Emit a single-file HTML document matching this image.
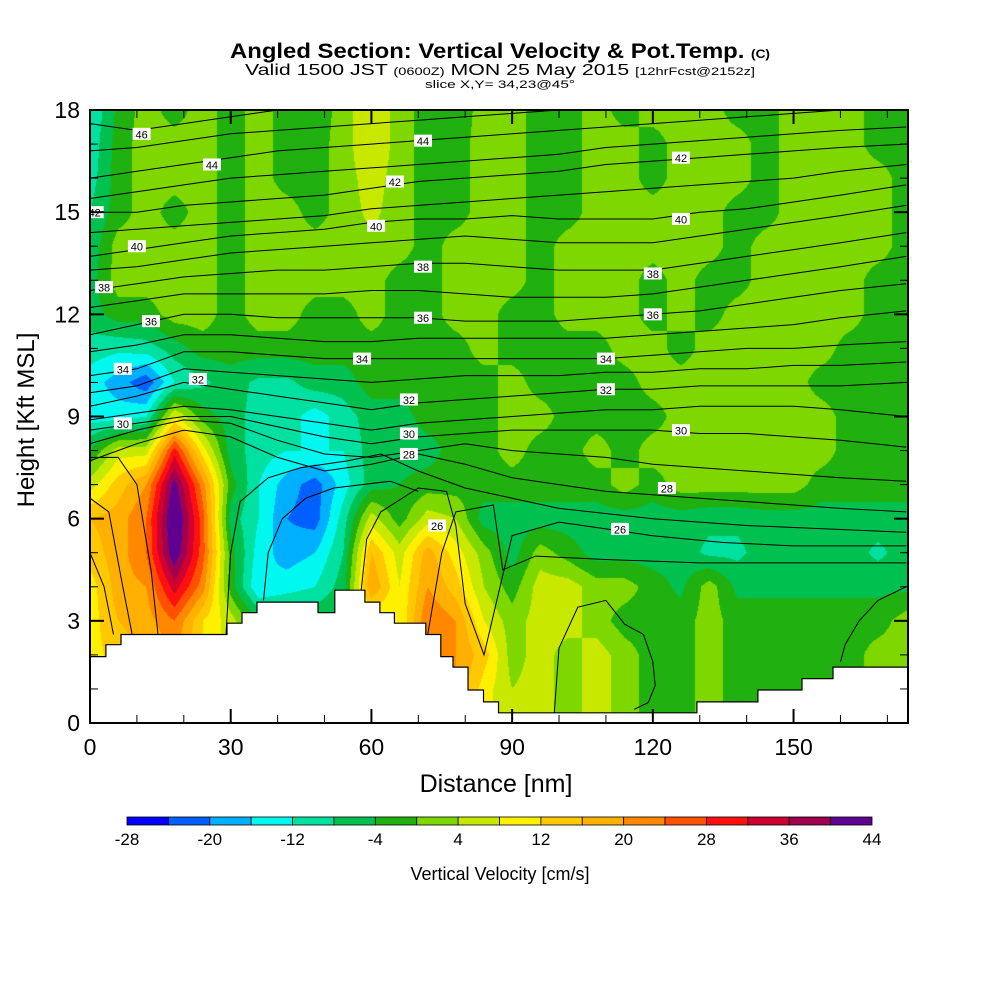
<!DOCTYPE html>
<html><head><meta charset="utf-8">
<style>
html,body{margin:0;padding:0;background:#fff;}
#wrap{position:relative;width:1000px;height:1000px;overflow:hidden;font-family:"Liberation Sans",sans-serif;}
canvas{position:absolute;left:90px;top:110px;}
svg{position:absolute;left:0;top:0;}
</style></head>
<body>
<div id="wrap">
<canvas id="cv" width="818" height="613"></canvas>
<svg id="sv" width="1000" height="1000" xmlns="http://www.w3.org/2000/svg">
<defs><clipPath id="plotclip"><rect x="90" y="110" width="818" height="613"/></clipPath></defs>
<text x="500" y="58" text-anchor="middle" font-size="21" font-weight="bold" textLength="540" lengthAdjust="spacingAndGlyphs">Angled Section: Vertical Velocity &amp; Pot.Temp. <tspan font-size="12">(C)</tspan></text>
<text x="500" y="75" text-anchor="middle" font-size="16" textLength="510" lengthAdjust="spacingAndGlyphs">Valid 1500 JST <tspan font-size="11">(0600Z)</tspan> MON 25 May 2015 <tspan font-size="11">[12hrFcst@2152z]</tspan></text>
<text x="500" y="88" text-anchor="middle" font-size="11" textLength="150" lengthAdjust="spacingAndGlyphs">slice X,Y= 34,23@45°</text>
<g id="contours" clip-path="url(#plotclip)"></g>
<g id="terrain"></g>
<g id="clabels"></g>
<g id="axes"></g>
<text x="496" y="792" text-anchor="middle" font-size="25">Distance [nm]</text>
<text transform="translate(34,420) rotate(-90)" text-anchor="middle" font-size="24">Height [Kft MSL]</text>
<g id="cbar"></g>
<text x="500" y="880" text-anchor="middle" font-size="18">Vertical Velocity [cm/s]</text>
</svg>
</div>
<script>
// ---- data ----
const levels = [-28,-24,-20,-16,-12,-8,-4,0,4,8,12,16,20,24,28,32,36,40,44];
const levelColors = ["#0000ff","#0060ff","#00b0ff","#00f8f0","#00e0a0","#00c050","#20b010","#7ed800","#c8e800","#fff000","#ffc800","#ffb000","#ff8800","#ff5000","#ff1010","#d00030","#a00050","#600090"];
const gridNm = [0,6,12,18,24,30,36,42,48,54,60,66,72,78,84,90,96,102,108,114,120,126,132,138,144,150,156,162,168,174];
const gridKft = [18,17,16,15,14,13,12,11,10,9,8,7,6,5,4,3,2,1,0];
const w18 = [-12,-3,2,-2,2,-2,2,-2,-3,2,8,2,-2,-3,2,2,-2,-2,2,-2,2,2,2,-2,-2,2,2,2,-2,-2];
const w17 = [-11,-2,2,2,2,-2,2,-2,-2,2,8,2,-2,-2,2,2,-2,-2,2,2,-2,2,2,2,-2,2,2,2,-2,-2];
const w16 = [-10,-2,2,2,2,-2,2,-2,-2,2,6,2,-2,-2,2,2,-2,-2,2,2,-2,2,2,2,-2,2,2,2,2,-2];
const w15 = [-8,-2,2,-2,2,-2,2,2,-2,2,5,2,-2,-2,2,2,-2,-2,2,2,2,2,2,-2,-2,2,2,2,2,-2];
const w14 = [-7,2,2,2,2,-2,2,2,2,2,3,2,-2,2,2,2,-2,2,2,2,2,2,2,-2,2,2,2,2,2,-2];
const w13 = [-6,2,2,2,2,-2,2,2,2,2,2,-2,-2,2,2,2,-2,2,2,2,-2,2,-2,-2,2,2,2,2,-2,-2];
const w12 = [-6,-2,-2,2,2,-2,2,2,-2,-2,2,-2,-2,2,2,-2,-2,2,2,2,-2,2,-2,2,2,2,2,2,-2,-2];
const w11 = [-10,-11,-10,-6,-2,-2,-2,-2,-2,-2,-2,-2,-2,-2,2,-2,-2,-2,-2,2,2,-2,2,2,2,2,2,-2,-2,-2];
const w10 = [-14,-18,-23,-12,-9,-6,-9,-9,-6,-6,-2,-2,-2,-2,-2,2,-2,-2,-2,-2,2,2,2,2,2,2,-2,-2,-2,-2];
const w9  = [-14,-14,-12,8,-2,-6,-10,-10,-14,-10,-6,-6,-2,-2,-2,2,2,-2,-2,-2,-2,2,2,2,2,2,2,-2,-2,-2];
const w8  = [-4,6,6,30,10,-6,-10,-12,-12,-12,-6,-6,-6,-2,-2,2,-2,-2,2,-2,2,2,2,2,2,2,2,-2,-2,-2];
const w7  = [6,14,20,42,22,-2,-12,-18,-22,-14,-6,-4,-2,-2,-2,-2,-2,-2,-2,2,-2,2,2,2,2,2,-2,-2,-2,-2];
const w6  = [16,18,24,46,26,-6,-12,-20,-22,-10,6,-2,6,4,-6,-6,-6,-6,-6,-6,-6,-6,-7,-7,-6,-6,-6,-6,-6,-6];
const w5  = [14,18,24,44,26,-2,-14,-18,-16,-8,16,6,18,10,2,-6,2,-2,-6,-6,-6,-6,-9,-9,-6,-6,-6,-6,-9,-6];
const w4  = [10,18,20,34,22,-2,-16,-14,-12,-6,20,8,20,14,4,-2,6,6,2,2,-2,-5,2,-5,-5,-5,-5,-5,-5,-5];
const w3  = [10,16,18,24,12,6,-4,-4,-4,-4,8,8,24,20,8,2,6,6,2,-2,-2,-2,2,-2,-2,-2,-2,-2,-2,2];
const w2  = [10,14,16,20,12,6,-4,-4,-4,-4,10,10,22,20,14,2,6,2,6,2,-2,-2,2,-2,-2,-2,-2,-2,2,2];
const w1  = [10,14,16,20,12,6,-4,-4,-4,-4,10,10,22,20,10,4,6,2,6,2,-2,-2,2,-2,-2,-2,-2,-2,2,2];
const w0  = [10,14,16,20,12,6,-4,-4,-4,-4,10,10,22,20,10,4,6,2,6,2,-2,-2,2,-2,-2,-2,-2,-2,2,2];
const wRows = [w18,w17,w16,w15,w14,w13,w12,w11,w10,w9,w8,w7,w6,w5,w4,w3,w2,w1,w0];

// terrain steps: start nm, height kft
const terrNm  = [0,3.4,6.6,29.2,32.4,35.6,48.6,51.8,52.2,58.6,61.8,64.9,71.4,71.6,74.8,77.4,80.6,83.9,87.1,129.4,142.4,151.8,158.4,174.5];
const terrKft = [1.95,2.3,2.6,2.93,3.24,3.55,3.24,3.24,3.9,3.55,3.24,2.93,2.93,2.6,1.95,1.64,0.97,0.62,0.3,0.62,0.97,1.3,1.64,1.64];

// potential temperature contours (heights at fixed nm positions)
const thNm = [0,10,20,30,40,50,60,70,80,90,100,110,120,130,140,150,160,174];
const thLevels = [46,45,44,43,42,41,40,39,38,37,36,35,34,33,32,31,30,29,28];
const th46 = [17.6,17.4,17.6,17.8,18.0,18.2,18.4,18.5,18.6,18.7,18.8,18.9,19,19,19,19,19,19];
const th45 = [16.8,16.9,17.1,17.3,17.4,17.5,17.6,17.7,17.8,17.9,18.0,18.1,18.2,18.3,18.4,18.5,18.6,18.7];
const th44 = [16.0,16.2,16.4,16.6,16.8,16.9,17.0,17.1,17.2,17.3,17.4,17.5,17.6,17.7,17.8,17.9,18.0,18.1];
const th43 = [15.4,15.6,15.8,16.0,16.1,16.2,16.3,16.4,16.5,16.6,16.7,16.9,17.0,17.1,17.2,17.3,17.4,17.5];
const th42 = [15.0,15.0,15.2,15.3,15.4,15.5,15.7,15.9,16.0,16.1,16.2,16.4,16.5,16.6,16.7,16.8,16.9,17.0];
const th41 = [14.4,14.5,14.6,14.7,14.8,14.9,15.1,15.2,15.3,15.4,15.5,15.6,15.7,15.8,15.9,16.0,16.2,16.4];
const th40 = [13.7,13.9,14.1,14.3,14.4,14.5,14.7,14.8,14.8,14.9,14.8,14.8,14.8,15.0,15.1,15.3,15.5,15.8];
const th39 = [13.3,13.4,13.6,13.8,13.9,14.0,14.1,14.2,14.3,14.2,14.1,14.1,14.1,14.3,14.5,14.7,14.9,15.2];
const th38 = [12.7,12.9,13.1,13.2,13.3,13.3,13.4,13.5,13.5,13.4,13.3,13.3,13.3,13.5,13.7,13.9,14.1,14.4];
const th37 = [12.2,12.4,12.6,12.6,12.6,12.6,12.7,12.7,12.6,12.5,12.5,12.5,12.6,12.8,13.0,13.2,13.4,13.7];
const th36 = [11.4,11.7,12.0,12.0,11.9,11.9,11.9,11.9,11.8,11.8,11.8,11.9,12.0,12.1,12.3,12.5,12.7,12.9];
const th35 = [10.9,11.1,11.4,11.4,11.3,11.2,11.2,11.3,11.3,11.3,11.3,11.3,11.4,11.5,11.6,11.7,11.9,12.1];
const th34 = [10.2,10.4,10.9,10.9,10.8,10.7,10.7,10.7,10.7,10.7,10.7,10.7,10.8,10.9,11.0,11.0,11.1,11.2];
const th33 = [9.7,9.9,10.4,10.3,10.2,10.1,10.0,10.1,10.2,10.2,10.2,10.3,10.3,10.4,10.4,10.5,10.5,10.6];
const th32 = [9.3,9.6,10.0,9.8,9.6,9.4,9.2,9.4,9.5,9.6,9.7,9.8,9.8,9.9,9.9,9.9,9.9,10.0];
const th31 = [8.9,9.1,9.3,9.2,9.0,8.8,8.6,8.8,8.9,9.0,9.1,9.2,9.2,9.3,9.3,9.3,9.2,9.0];
const th30 = [8.6,8.8,9.0,9.0,8.7,8.4,8.2,8.4,8.5,8.6,8.6,8.6,8.6,8.5,8.5,8.4,8.3,8.1];
const th29 = [8.2,8.6,8.9,8.8,8.3,7.9,7.8,8.0,8.2,8.0,7.9,7.8,7.6,7.5,7.4,7.3,7.2,7.1];
const th28 = [7.7,8.2,8.6,8.4,7.8,7.4,7.6,7.9,7.6,7.2,7.0,6.8,6.7,6.6,6.5,6.4,6.3,6.2];
const thRows = [th46,th45,th44,th43,th42,th41,th40,th39,th38,th37,th36,th35,th34,th33,th32,th31,th30,th29,th28];
// low-level contours given as free polylines (nm, kft)
const th27aNm = [0,6,10,13,14.5];              const th27aKft = [7.8,7.8,7.0,4.5,2.6];
const th27bNm = [29,30,32,38,45,55,62,70,80,90,100,120,140,174]; const th27bKft = [2.6,5,6.5,7.2,7.5,7.7,7.9,7.4,6.9,6.6,6.3,6.0,5.8,5.6];
const th26aNm = [0,4,7,9];                     const th26aKft = [6.6,6.2,4.0,2.6];
const th26bNm = [37,38,41,46,52,58,64,70];     const th26bKft = [3.6,5.0,6.0,6.6,6.9,7.0,7.1,6.8];
const th26cNm = [57.5,59,62,70,76,78,80,84,90,100,110,120,135,150,174]; const th26cKft = [3.5,5.4,6.2,6.9,6.8,5.8,3.5,2.0,5.5,5.9,5.7,5.5,5.3,5.2,5.2];
const th25aNm = [0,3,5];                       const th25aKft = [5.0,4.0,2.6];
const th25bNm = [72,75,78,86,88,95,110,130,150,174]; const th25bKft = [2.6,5.0,6.2,6.4,4.5,4.9,4.8,4.7,4.7,4.7];
const loop1Nm = [99,100,104,110,114,118,120,120.5,119,116];  const loop1Kft = [0.3,2.2,3.4,3.6,2.9,2.6,1.8,1.1,0.6,0.4];
const loop2Nm = [160,161,164,168,174];          const loop2Kft = [1.8,2.3,3.0,3.6,4.0];
const labelVals = [46,44,42,40,38,36,34,30,32,44,42,40,38,36,34,32,30,28,26,42,40,38,36,34,32,30,28,26];
const labelNm   = [11,26,1,10,3,13,7,7,23,71,65,61,71,71,58,68,68,68,74,126,126,120,120,110,110,126,123,113];
const labelKft  = [17.3,16.4,15.0,14.0,12.8,11.8,10.4,8.8,10.1,17.1,15.9,14.6,13.4,11.9,10.7,9.5,8.5,7.9,5.8,16.6,14.8,13.2,12.0,10.7,9.8,8.6,6.9,5.7];
const xTicks = [0,30,60,90,120,150];
const yTicks = [0,3,6,9,12,15,18];
const cbarLabels = [-28,-20,-12,-4,4,12,20,28,36,44];

// ---- scales ----
const X0=90, X1=908, Y0=723, Y1=110, NMMAX=174.4, KMAX=18;
const sx = nm => X0 + nm*(X1-X0)/NMMAX;
const sy = k => Y0 - k*(Y0-Y1)/KMAX;
const NS='http://www.w3.org/2000/svg';
function mk(tag, attrs, parent){const e=document.createElementNS(NS,tag);for(const k in attrs)e.setAttribute(k,attrs[k]);parent.appendChild(e);return e;}
function hex(c){return [parseInt(c.substr(1,2),16),parseInt(c.substr(3,2),16),parseInt(c.substr(5,2),16)];}

// ---- field ----
const cv=document.getElementById('cv'), ctx=cv.getContext('2d');
const W=cv.width,H=cv.height, img=ctx.createImageData(W,H);
const rgb=levelColors.map(hex);
const nr=gridKft.length, nc=gridNm.length;
for(let py=0;py<H;py++){
  const k = (Y0-(Y1+py+0.5))*KMAX/(Y0-Y1);
  let r = (gridKft[0]-k); if(r<0)r=0; if(r>nr-1)r=nr-1;
  const r0=Math.min(nr-2,Math.floor(r)), fr=r-r0;
  for(let px=0;px<W;px++){
    const nm=(px+0.5)*NMMAX/(X1-X0);
    let c=nm/6; if(c>nc-1)c=nc-1;
    const c0=Math.min(nc-2,Math.floor(c)), fc=c-c0;
    const a=wRows[r0][c0],b=wRows[r0][c0+1],d=wRows[r0+1][c0],e=wRows[r0+1][c0+1];
    const v=(a*(1-fc)+b*fc)*(1-fr)+(d*(1-fc)+e*fc)*fr;
    let i=Math.floor((v-levels[0])/4); if(i<0)i=0; if(i>levelColors.length-1)i=levelColors.length-1;
    const o=(py*W+px)*4; img.data[o]=rgb[i][0];img.data[o+1]=rgb[i][1];img.data[o+2]=rgb[i][2];img.data[o+3]=255;
  }
}
ctx.putImageData(img,0,0);

// ---- contours ----
const cg=document.getElementById('contours');
function poly(nms,kfts,name){
  const pts=nms.map((n,i)=>sx(n).toFixed(1)+','+sy(kfts[i]).toFixed(1)).join(' ');
  const p=mk('polyline',{points:pts,fill:'none',stroke:'#000','stroke-width':1},cg);
  
  
}
thRows.forEach((row,i)=>poly(thNm,row,'theta-contour-'+thLevels[i]));
poly(th27aNm,th27aKft,'theta-contour-27-left');
poly(th27bNm,th27bKft,'theta-contour-27');
poly(th26aNm,th26aKft,'theta-contour-26-left');
poly(th26bNm,th26bKft,'theta-contour-26-mid');
poly(th26cNm,th26cKft,'theta-contour-26');
poly(th25aNm,th25aKft,'theta-contour-25-left');
poly(th25bNm,th25bKft,'theta-contour-25');
poly(loop1Nm,loop1Kft,'velocity-contour-loop');
poly(loop2Nm,loop2Kft,'velocity-contour-right');

// ---- terrain ----
const tg=document.getElementById('terrain');
let d='M'+X0+','+Y0;
for(let i=0;i<terrNm.length;i++){
  const x0=sx(terrNm[i]), x1=i<terrNm.length-1?sx(terrNm[i+1]):X1;
  d+=' L'+x0.toFixed(1)+','+sy(terrKft[i]).toFixed(1)+' L'+Math.min(x1,X1).toFixed(1)+','+sy(terrKft[i]).toFixed(1);
}
d+=' L'+X1+','+Y0+' Z';
const tp=mk('path',{d:d,fill:'#fff',stroke:'#000','stroke-width':1.2},tg);



// ---- contour labels ----
const lg=document.getElementById('clabels');
labelVals.forEach((v,i)=>{
  const x=sx(labelNm[i]), y=sy(labelKft[i]);
  const r=mk('rect',{x:x-9,y:y-6,width:18,height:12,fill:'#fff'},lg);
  
  
  const t=mk('text',{x:x,y:y+4.5,'text-anchor':'middle','font-size':11},lg);
  t.textContent=v;
  
  
});

// ---- axes ----
const ag=document.getElementById('axes');
const frame=mk('rect',{x:X0,y:Y1,width:X1-X0,height:Y0-Y1,fill:'none',stroke:'#000','stroke-width':2},ag);


for(let n=0;n<=170;n+=10){
  const major=n%30===0, L=major?14:8, x=sx(n);
  const t1=mk('line',{x1:x,y1:Y0,x2:x,y2:Y0-L,stroke:'#000','stroke-width':major?2:1},ag);
  
  
  const t2=mk('line',{x1:x,y1:Y1,x2:x,y2:Y1+L,stroke:'#000','stroke-width':major?2:1},ag);
  
  
}
for(let k=0;k<=18;k++){
  const major=k%3===0, L=major?14:8, y=sy(k);
  const t1=mk('line',{x1:X0,y1:y,x2:X0+L,y2:y,stroke:'#000','stroke-width':major?2:1},ag);
  
  
  const t2=mk('line',{x1:X1,y1:y,x2:X1-L,y2:y,stroke:'#000','stroke-width':major?2:1},ag);
  
  
}
xTicks.forEach(v=>{
  const t=mk('text',{x:sx(v),y:755,'text-anchor':'middle','font-size':23},ag);
  t.textContent=v;
  
  
});
yTicks.forEach(v=>{
  const t=mk('text',{x:80,y:sy(v)+8,'text-anchor':'end','font-size':23},ag);
  t.textContent=v;
  
  
});

// ---- colorbar ----
const bg=document.getElementById('cbar');
const CB0=127, CB1=872, cbw=(CB1-CB0)/levelColors.length;
levelColors.forEach((c,i)=>{
  const r=mk('rect',{x:CB0+i*cbw,y:817,width:cbw,height:8,fill:c,stroke:'#000','stroke-width':0.8},bg);
  
  
});
cbarLabels.forEach(v=>{
  const i=(v-levels[0])/4;
  const t=mk('text',{x:CB0+i*cbw,y:845,'text-anchor':'middle','font-size':17},bg);
  t.textContent=v;
  
  
});
</script>
</body></html>
